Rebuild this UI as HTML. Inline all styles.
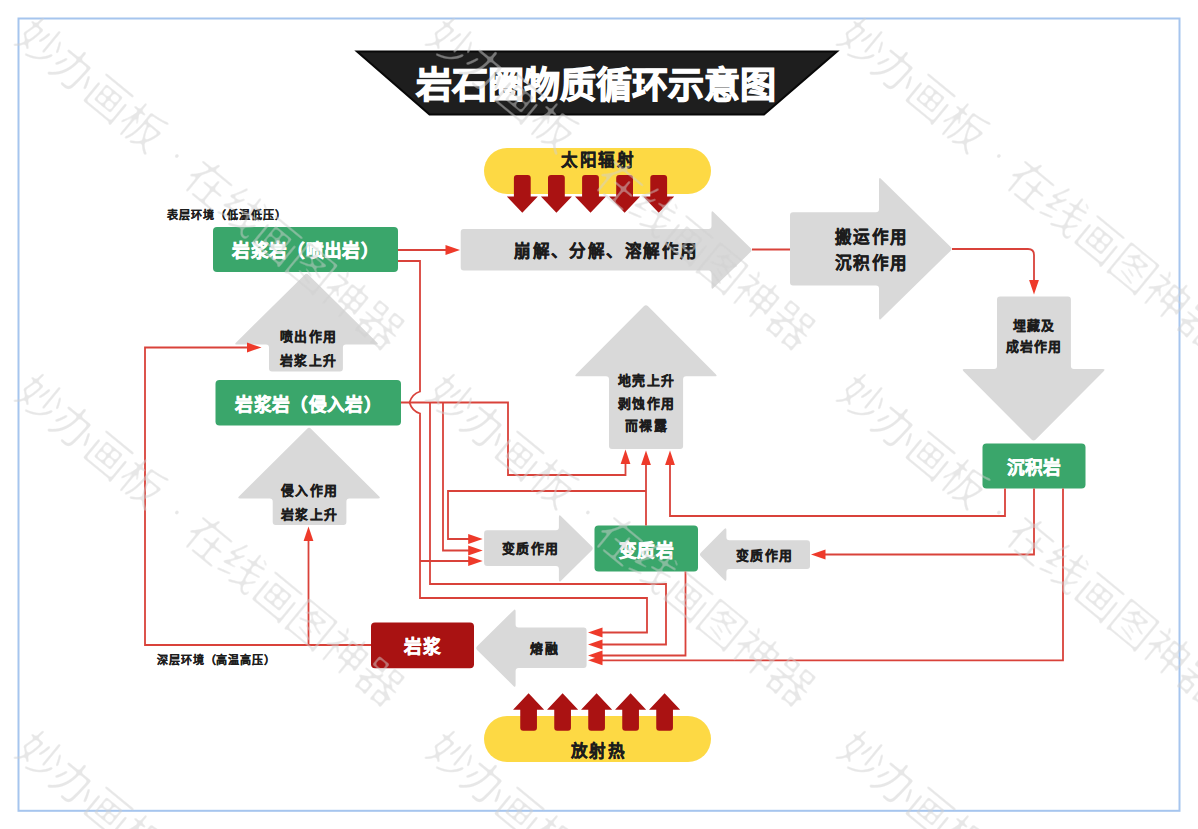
<!DOCTYPE html>
<html lang="zh-CN">
<head>
<meta charset="utf-8">
<style>
html,body{margin:0;padding:0;background:#fff;width:1198px;height:829px;overflow:hidden}
svg{position:absolute;left:0;top:0;font-family:"Liberation Sans",sans-serif}
.t{font-weight:700;fill:#1c1c1c;stroke:#1c1c1c;stroke-width:0.32;text-anchor:middle}
.w{font-weight:700;fill:#fff;stroke:#fff;stroke-width:0.6;text-anchor:middle}
.ln{fill:none;stroke:#d9423a;stroke-width:1.8}
.ah{fill:#ee3a2a}
.g{fill:#d9d9d9}
.da{fill:#aa1212}
.wm{font-size:46px;letter-spacing:-1.7px;fill:#000;font-weight:400}
</style>
</head>
<body>
<svg width="1198" height="829" viewBox="0 0 1198 829">
<defs><filter id="thin" x="0" y="0" width="1198" height="829" filterUnits="userSpaceOnUse" color-interpolation-filters="sRGB"><feGaussianBlur in="SourceAlpha" stdDeviation="0.8" result="b"/><feComponentTransfer in="b" result="m"><feFuncA type="linear" slope="3" intercept="-1.45"/></feComponentTransfer><feFlood flood-color="#d0d0d0" flood-opacity="0.5"/><feComposite in2="m" operator="in"/></filter></defs>
<rect x="18.5" y="18.5" width="1161" height="792.3" fill="none" stroke="#a6c5ee" stroke-width="2"/>
<polygon points="357,51.5 837,51.5 764,114.5 429.5,114.5" fill="#1e1e1e" stroke="#080808" stroke-width="2"/>
<text x="596.00" y="97.5" class="w" font-size="36.00" letter-spacing="0.00" style="stroke-width:1.2">岩石圈物质循环示意图</text>
<rect x="484" y="148" width="227" height="46" rx="23" fill="#fdd944"/>
<text x="598.22" y="166" class="t" font-size="16.56" letter-spacing="1.44">太阳辐射</text>
<path class="da" d="M513.9,178 Q513.9,175 516.9,175 L527.6999999999999,175 Q530.6999999999999,175 530.6999999999999,178 L530.6999999999999,196.4 L537.8,196.4 L522.3,212.7 L506.79999999999995,196.4 L513.9,196.4 Z"/>
<path class="da" d="M548.0,178 Q548.0,175 551.0,175 L561.8,175 Q564.8,175 564.8,178 L564.8,196.4 L571.9,196.4 L556.4,212.7 L540.9,196.4 L548.0,196.4 Z"/>
<path class="da" d="M582.1,178 Q582.1,175 585.1,175 L595.9,175 Q598.9,175 598.9,178 L598.9,196.4 L606.0,196.4 L590.5,212.7 L575.0,196.4 L582.1,196.4 Z"/>
<path class="da" d="M616.1999999999999,178 Q616.1999999999999,175 619.1999999999999,175 L629.9999999999999,175 Q632.9999999999999,175 632.9999999999999,178 L632.9999999999999,196.4 L640.0999999999999,196.4 L624.5999999999999,212.7 L609.0999999999999,196.4 L616.1999999999999,196.4 Z"/>
<path class="da" d="M650.3,178 Q650.3,175 653.3,175 L664.0999999999999,175 Q667.0999999999999,175 667.0999999999999,178 L667.0999999999999,196.4 L674.1999999999999,196.4 L658.6999999999999,212.7 L643.1999999999999,196.4 L650.3,196.4 Z"/>
<text x="226.98" y="218.5" class="t" font-size="11.04" letter-spacing="0.96" style="stroke-width:0.15">表层环境（低温低压）</text>
<text x="216.48" y="664" class="t" font-size="11.04" letter-spacing="0.96" style="stroke-width:0.15">深层环境（高温高压）</text>
<rect x="213" y="227" width="185" height="45" rx="4" fill="#3aa66b"/>
<text x="305.68" y="257" class="w" font-size="17.64" letter-spacing="0.36">岩浆岩（喷出岩）</text>
<rect x="215.5" y="380" width="185.5" height="45.5" rx="4" fill="#3aa66b"/>
<text x="308.68" y="410.5" class="w" font-size="17.64" letter-spacing="0.36">岩浆岩（侵入岩）</text>
<rect x="982.5" y="443.5" width="103" height="45" rx="4" fill="#3aa66b"/>
<text x="1034.18" y="474" class="w" font-size="17.64" letter-spacing="0.36">沉积岩</text>
<rect x="594.5" y="525.5" width="103.5" height="46" rx="4" fill="#3aa66b"/>
<text x="646.68" y="556.5" class="w" font-size="17.64" letter-spacing="0.36">变质岩</text>
<rect x="371" y="622.5" width="103" height="45.8" rx="4" fill="#a91212"/>
<text x="422.68" y="653" class="w" font-size="17.64" letter-spacing="0.36">岩浆</text>
<path class="g" d="M463.70,229.00 L708.50,229.00 Q711.50,229.00 711.50,226.00 L711.50,213.10 Q711.50,210.10 713.66,212.19 L750.54,247.91 Q752.70,250.00 750.54,252.09 L713.66,287.81 Q711.50,289.90 711.50,286.90 L711.50,273.50 Q711.50,270.50 708.50,270.50 L463.70,270.50 Q460.70,270.50 460.70,267.50 L460.70,232.00 Q460.70,229.00 463.70,229.00 Z"/>
<text x="606.32" y="256.5" class="t" font-size="16.56" letter-spacing="1.44">崩解、分解、溶解作用</text>
<path class="g" d="M793.00,212.20 L876.00,212.20 Q879.00,212.20 879.00,209.20 L879.00,179.80 Q879.00,176.80 881.14,178.90 L950.46,246.70 Q952.60,248.80 950.46,250.90 L881.14,318.70 Q879.00,320.80 879.00,317.80 L879.00,288.40 Q879.00,285.40 876.00,285.40 L793.00,285.40 Q790.00,285.40 790.00,282.40 L790.00,215.20 Q790.00,212.20 793.00,212.20 Z"/>
<text x="871.52" y="243" class="t" font-size="16.56" letter-spacing="1.44">搬运作用</text>
<text x="871.52" y="268.5" class="t" font-size="16.56" letter-spacing="1.44">沉积作用</text>
<path class="g" d="M1000.00,296.50 L1067.90,296.50 Q1070.90,296.50 1070.90,299.50 L1070.90,366.00 Q1070.90,369.00 1073.90,369.00 L1102.80,369.00 Q1105.80,369.00 1103.68,371.13 L1035.72,439.47 Q1033.60,441.60 1031.48,439.47 L963.52,371.13 Q961.40,369.00 964.40,369.00 L994.00,369.00 Q997.00,369.00 997.00,366.00 L997.00,299.50 Q997.00,296.50 1000.00,296.50 Z"/>
<text x="1034.16" y="329.5" class="t" font-size="12.88" letter-spacing="1.12">埋藏及</text>
<text x="1034.16" y="350.5" class="t" font-size="12.88" letter-spacing="1.12">成岩作用</text>
<path class="g" d="M308.68,274.91 L376.97,342.49 Q379.10,344.60 376.10,344.60 L345.90,344.60 Q342.90,344.60 342.90,347.60 L342.90,368.40 Q342.90,371.40 339.90,371.40 L272.00,371.40 Q269.00,371.40 269.00,368.40 L269.00,347.60 Q269.00,344.60 266.00,344.60 L237.00,344.60 Q234.00,344.60 236.13,342.49 L304.42,274.91 Q306.55,272.80 308.68,274.91 Z"/>
<text x="308.56" y="341" class="t" font-size="12.88" letter-spacing="1.12">喷出作用</text>
<text x="308.56" y="365" class="t" font-size="12.88" letter-spacing="1.12">岩浆上升</text>
<path class="g" d="M311.18,428.91 L378.97,496.29 Q381.10,498.40 378.10,498.40 L349.40,498.40 Q346.40,498.40 346.40,501.40 L346.40,522.00 Q346.40,525.00 343.40,525.00 L275.70,525.00 Q272.70,525.00 272.70,522.00 L272.70,501.40 Q272.70,498.40 269.70,498.40 L240.00,498.40 Q237.00,498.40 239.13,496.29 L306.92,428.91 Q309.05,426.80 311.18,428.91 Z"/>
<text x="309.56" y="495" class="t" font-size="12.88" letter-spacing="1.12">侵入作用</text>
<text x="309.56" y="519" class="t" font-size="12.88" letter-spacing="1.12">岩浆上升</text>
<path class="g" d="M648.07,306.22 L715.78,374.18 Q717.90,376.30 714.90,376.30 L686.10,376.30 Q683.10,376.30 683.10,379.30 L683.10,446.00 Q683.10,449.00 680.10,449.00 L612.00,449.00 Q609.00,449.00 609.00,446.00 L609.00,379.30 Q609.00,376.30 606.00,376.30 L577.00,376.30 Q574.00,376.30 576.12,374.18 L643.83,306.22 Q645.95,304.10 648.07,306.22 Z"/>
<text x="646.56" y="385" class="t" font-size="12.88" letter-spacing="1.12">地壳上升</text>
<text x="646.56" y="408" class="t" font-size="12.88" letter-spacing="1.12">剥蚀作用</text>
<text x="646.56" y="430" class="t" font-size="12.88" letter-spacing="1.12">而裸露</text>
<path class="g" d="M487.10,530.30 L555.90,530.30 Q558.90,530.30 558.90,527.30 L558.90,517.10 Q558.90,514.10 561.04,516.20 L591.66,546.35 Q593.80,548.45 591.66,550.55 L561.04,580.70 Q558.90,582.80 558.90,579.80 L558.90,569.00 Q558.90,566.00 555.90,566.00 L487.10,566.00 Q484.10,566.00 484.10,563.00 L484.10,533.30 Q484.10,530.30 487.10,530.30 Z"/>
<text x="530.56" y="553" class="t" font-size="12.88" letter-spacing="1.12">变质作用</text>
<path class="g" d="M701.02,552.38 L724.28,529.12 Q726.40,527.00 726.40,530.00 L726.40,537.20 Q726.40,540.20 729.40,540.20 L807.00,540.20 Q810.00,540.20 810.00,543.20 L810.00,566.10 Q810.00,569.10 807.00,569.10 L729.40,569.10 Q726.40,569.10 726.40,572.10 L726.40,579.00 Q726.40,582.00 724.28,579.88 L701.02,556.62 Q698.90,554.50 701.02,552.38 Z"/>
<text x="764.56" y="560" class="t" font-size="12.88" letter-spacing="1.12">变质作用</text>
<path class="g" d="M477.34,646.04 L513.46,610.41 Q515.60,608.30 515.60,611.30 L515.60,624.50 Q515.60,627.50 518.60,627.50 L583.60,627.50 Q586.60,627.50 586.60,630.50 L586.60,665.00 Q586.60,668.00 583.60,668.00 L518.60,668.00 Q515.60,668.00 515.60,671.00 L515.60,685.00 Q515.60,688.00 513.46,685.89 L477.34,650.26 Q475.20,648.15 477.34,646.04 Z"/>
<text x="544.56" y="653" class="t" font-size="12.88" letter-spacing="1.12">熔融</text>
<rect x="484" y="716" width="227" height="46" rx="23" fill="#fdd944"/>
<text x="598.72" y="757" class="t" font-size="16.56" letter-spacing="1.44">放射热</text>
<path class="da" d="M520.25,727.7 Q520.25,730.7 523.25,730.7 L533.95,730.7 Q536.95,730.7 536.95,727.7 L536.95,709.7 L544.15,709.7 L528.6,693.3 L513.0500000000001,709.7 L520.25,709.7 Z"/>
<path class="da" d="M554.25,727.7 Q554.25,730.7 557.25,730.7 L567.95,730.7 Q570.95,730.7 570.95,727.7 L570.95,709.7 L578.15,709.7 L562.6,693.3 L547.0500000000001,709.7 L554.25,709.7 Z"/>
<path class="da" d="M588.25,727.7 Q588.25,730.7 591.25,730.7 L601.95,730.7 Q604.95,730.7 604.95,727.7 L604.95,709.7 L612.15,709.7 L596.6,693.3 L581.0500000000001,709.7 L588.25,709.7 Z"/>
<path class="da" d="M622.25,727.7 Q622.25,730.7 625.25,730.7 L635.95,730.7 Q638.95,730.7 638.95,727.7 L638.95,709.7 L646.15,709.7 L630.6,693.3 L615.0500000000001,709.7 L622.25,709.7 Z"/>
<path class="da" d="M656.25,727.7 Q656.25,730.7 659.25,730.7 L669.95,730.7 Q672.95,730.7 672.95,727.7 L672.95,709.7 L680.15,709.7 L664.6,693.3 L649.0500000000001,709.7 L656.25,709.7 Z"/>
<g class="ln"><path d="M398,250 L448,250"/><path d="M752,249.5 L790,249.5"/><path d="M952,249 L1028,249 Q1034,249 1034,255 L1034,282"/><path d="M398,261 L420,261 L420,391.5 Q412,394 409.5,402.5 Q412,411 420,413.5 L420,598 L647,598 L647,632.5 L598,632.5"/><path d="M420,561 L471,561"/><path d="M401,402.5 L508,402.5 L508,475 L625.5,475 L625.5,462"/><path d="M430,402.5 L430,584 L666,584 L666,644.5 L598,644.5"/><path d="M443,402.5 L443,550.5 L471,550.5"/><path d="M646,525.5 L646,462"/><path d="M646,491 L448,491 L448,539 L471,539"/><path d="M1005,488.5 L1005,516 L670,516 L670,462"/><path d="M1034,488.5 L1034,554.5 L822,554.5"/><path d="M1063,488.5 L1063,660.3 L598,660.3"/><path d="M685.5,571.5 L685.5,655.5 L598,655.5"/><path d="M371,645 L145,645 L145,347.5 L250,347.5"/><path d="M308.5,645 L308.5,538"/></g>
<g class="ah"><polygon points="460.00,250.00 445.50,245.10 445.50,254.90"/><polygon points="1034.00,294.50 1029.10,280.00 1038.90,280.00"/><polygon points="261.50,347.50 247.00,342.60 247.00,352.40"/><polygon points="308.50,526.50 303.60,541.00 313.40,541.00"/><polygon points="625.50,449.50 620.60,464.00 630.40,464.00"/><polygon points="646.00,450.50 641.10,465.00 650.90,465.00"/><polygon points="670.00,450.50 665.10,465.00 674.90,465.00"/><polygon points="482.70,539.00 468.20,534.10 468.20,543.90"/><polygon points="482.70,550.50 468.20,545.60 468.20,555.40"/><polygon points="482.70,561.00 468.20,556.10 468.20,565.90"/><polygon points="811.00,554.50 825.50,549.60 825.50,559.40"/><polygon points="588.00,632.50 602.50,627.60 602.50,637.40"/><polygon points="588.00,644.50 602.50,639.60 602.50,649.40"/><polygon points="588.00,655.50 602.50,650.60 602.50,660.40"/><polygon points="588.00,660.30 602.50,655.40 602.50,665.20"/></g>
<g class="wm" filter="url(#thin)">
<text transform="translate(-399.3,-315.2) rotate(39.5)">妙办画板</text>
<text transform="translate(-242.2,-190.6) rotate(39.5)" text-anchor="middle" letter-spacing="0">·</text>
<text transform="translate(-230.4,-174.5) rotate(39.5)">在线画图神器</text>
<text transform="translate(11.7,-315.2) rotate(39.5)">妙办画板</text>
<text transform="translate(168.8,-190.6) rotate(39.5)" text-anchor="middle" letter-spacing="0">·</text>
<text transform="translate(180.6,-174.5) rotate(39.5)">在线画图神器</text>
<text transform="translate(422.7,-315.2) rotate(39.5)">妙办画板</text>
<text transform="translate(579.8,-190.6) rotate(39.5)" text-anchor="middle" letter-spacing="0">·</text>
<text transform="translate(591.6,-174.5) rotate(39.5)">在线画图神器</text>
<text transform="translate(833.7,-315.2) rotate(39.5)">妙办画板</text>
<text transform="translate(990.8,-190.6) rotate(39.5)" text-anchor="middle" letter-spacing="0">·</text>
<text transform="translate(1002.6,-174.5) rotate(39.5)">在线画图神器</text>
<text transform="translate(1244.7,-315.2) rotate(39.5)">妙办画板</text>
<text transform="translate(1401.8,-190.6) rotate(39.5)" text-anchor="middle" letter-spacing="0">·</text>
<text transform="translate(1413.6,-174.5) rotate(39.5)">在线画图神器</text>
<text transform="translate(-399.3,41.1) rotate(39.5)">妙办画板</text>
<text transform="translate(-242.2,165.7) rotate(39.5)" text-anchor="middle" letter-spacing="0">·</text>
<text transform="translate(-230.4,181.8) rotate(39.5)">在线画图神器</text>
<text transform="translate(11.7,41.1) rotate(39.5)">妙办画板</text>
<text transform="translate(168.8,165.7) rotate(39.5)" text-anchor="middle" letter-spacing="0">·</text>
<text transform="translate(180.6,181.8) rotate(39.5)">在线画图神器</text>
<text transform="translate(422.7,41.1) rotate(39.5)">妙办画板</text>
<text transform="translate(579.8,165.7) rotate(39.5)" text-anchor="middle" letter-spacing="0">·</text>
<text transform="translate(591.6,181.8) rotate(39.5)">在线画图神器</text>
<text transform="translate(833.7,41.1) rotate(39.5)">妙办画板</text>
<text transform="translate(990.8,165.7) rotate(39.5)" text-anchor="middle" letter-spacing="0">·</text>
<text transform="translate(1002.6,181.8) rotate(39.5)">在线画图神器</text>
<text transform="translate(1244.7,41.1) rotate(39.5)">妙办画板</text>
<text transform="translate(1401.8,165.7) rotate(39.5)" text-anchor="middle" letter-spacing="0">·</text>
<text transform="translate(1413.6,181.8) rotate(39.5)">在线画图神器</text>
<text transform="translate(-399.3,397.4) rotate(39.5)">妙办画板</text>
<text transform="translate(-242.2,522.0) rotate(39.5)" text-anchor="middle" letter-spacing="0">·</text>
<text transform="translate(-230.4,538.1) rotate(39.5)">在线画图神器</text>
<text transform="translate(11.7,397.4) rotate(39.5)">妙办画板</text>
<text transform="translate(168.8,522.0) rotate(39.5)" text-anchor="middle" letter-spacing="0">·</text>
<text transform="translate(180.6,538.1) rotate(39.5)">在线画图神器</text>
<text transform="translate(422.7,397.4) rotate(39.5)">妙办画板</text>
<text transform="translate(579.8,522.0) rotate(39.5)" text-anchor="middle" letter-spacing="0">·</text>
<text transform="translate(591.6,538.1) rotate(39.5)">在线画图神器</text>
<text transform="translate(833.7,397.4) rotate(39.5)">妙办画板</text>
<text transform="translate(990.8,522.0) rotate(39.5)" text-anchor="middle" letter-spacing="0">·</text>
<text transform="translate(1002.6,538.1) rotate(39.5)">在线画图神器</text>
<text transform="translate(1244.7,397.4) rotate(39.5)">妙办画板</text>
<text transform="translate(1401.8,522.0) rotate(39.5)" text-anchor="middle" letter-spacing="0">·</text>
<text transform="translate(1413.6,538.1) rotate(39.5)">在线画图神器</text>
<text transform="translate(-399.3,753.7) rotate(39.5)">妙办画板</text>
<text transform="translate(-242.2,878.3) rotate(39.5)" text-anchor="middle" letter-spacing="0">·</text>
<text transform="translate(-230.4,894.4) rotate(39.5)">在线画图神器</text>
<text transform="translate(11.7,753.7) rotate(39.5)">妙办画板</text>
<text transform="translate(168.8,878.3) rotate(39.5)" text-anchor="middle" letter-spacing="0">·</text>
<text transform="translate(180.6,894.4) rotate(39.5)">在线画图神器</text>
<text transform="translate(422.7,753.7) rotate(39.5)">妙办画板</text>
<text transform="translate(579.8,878.3) rotate(39.5)" text-anchor="middle" letter-spacing="0">·</text>
<text transform="translate(591.6,894.4) rotate(39.5)">在线画图神器</text>
<text transform="translate(833.7,753.7) rotate(39.5)">妙办画板</text>
<text transform="translate(990.8,878.3) rotate(39.5)" text-anchor="middle" letter-spacing="0">·</text>
<text transform="translate(1002.6,894.4) rotate(39.5)">在线画图神器</text>
<text transform="translate(1244.7,753.7) rotate(39.5)">妙办画板</text>
<text transform="translate(1401.8,878.3) rotate(39.5)" text-anchor="middle" letter-spacing="0">·</text>
<text transform="translate(1413.6,894.4) rotate(39.5)">在线画图神器</text>
<text transform="translate(-399.3,1110.0) rotate(39.5)">妙办画板</text>
<text transform="translate(-242.2,1234.6) rotate(39.5)" text-anchor="middle" letter-spacing="0">·</text>
<text transform="translate(-230.4,1250.7) rotate(39.5)">在线画图神器</text>
<text transform="translate(11.7,1110.0) rotate(39.5)">妙办画板</text>
<text transform="translate(168.8,1234.6) rotate(39.5)" text-anchor="middle" letter-spacing="0">·</text>
<text transform="translate(180.6,1250.7) rotate(39.5)">在线画图神器</text>
<text transform="translate(422.7,1110.0) rotate(39.5)">妙办画板</text>
<text transform="translate(579.8,1234.6) rotate(39.5)" text-anchor="middle" letter-spacing="0">·</text>
<text transform="translate(591.6,1250.7) rotate(39.5)">在线画图神器</text>
<text transform="translate(833.7,1110.0) rotate(39.5)">妙办画板</text>
<text transform="translate(990.8,1234.6) rotate(39.5)" text-anchor="middle" letter-spacing="0">·</text>
<text transform="translate(1002.6,1250.7) rotate(39.5)">在线画图神器</text>
<text transform="translate(1244.7,1110.0) rotate(39.5)">妙办画板</text>
<text transform="translate(1401.8,1234.6) rotate(39.5)" text-anchor="middle" letter-spacing="0">·</text>
<text transform="translate(1413.6,1250.7) rotate(39.5)">在线画图神器</text>
</g>
</svg>
</body>
</html>
